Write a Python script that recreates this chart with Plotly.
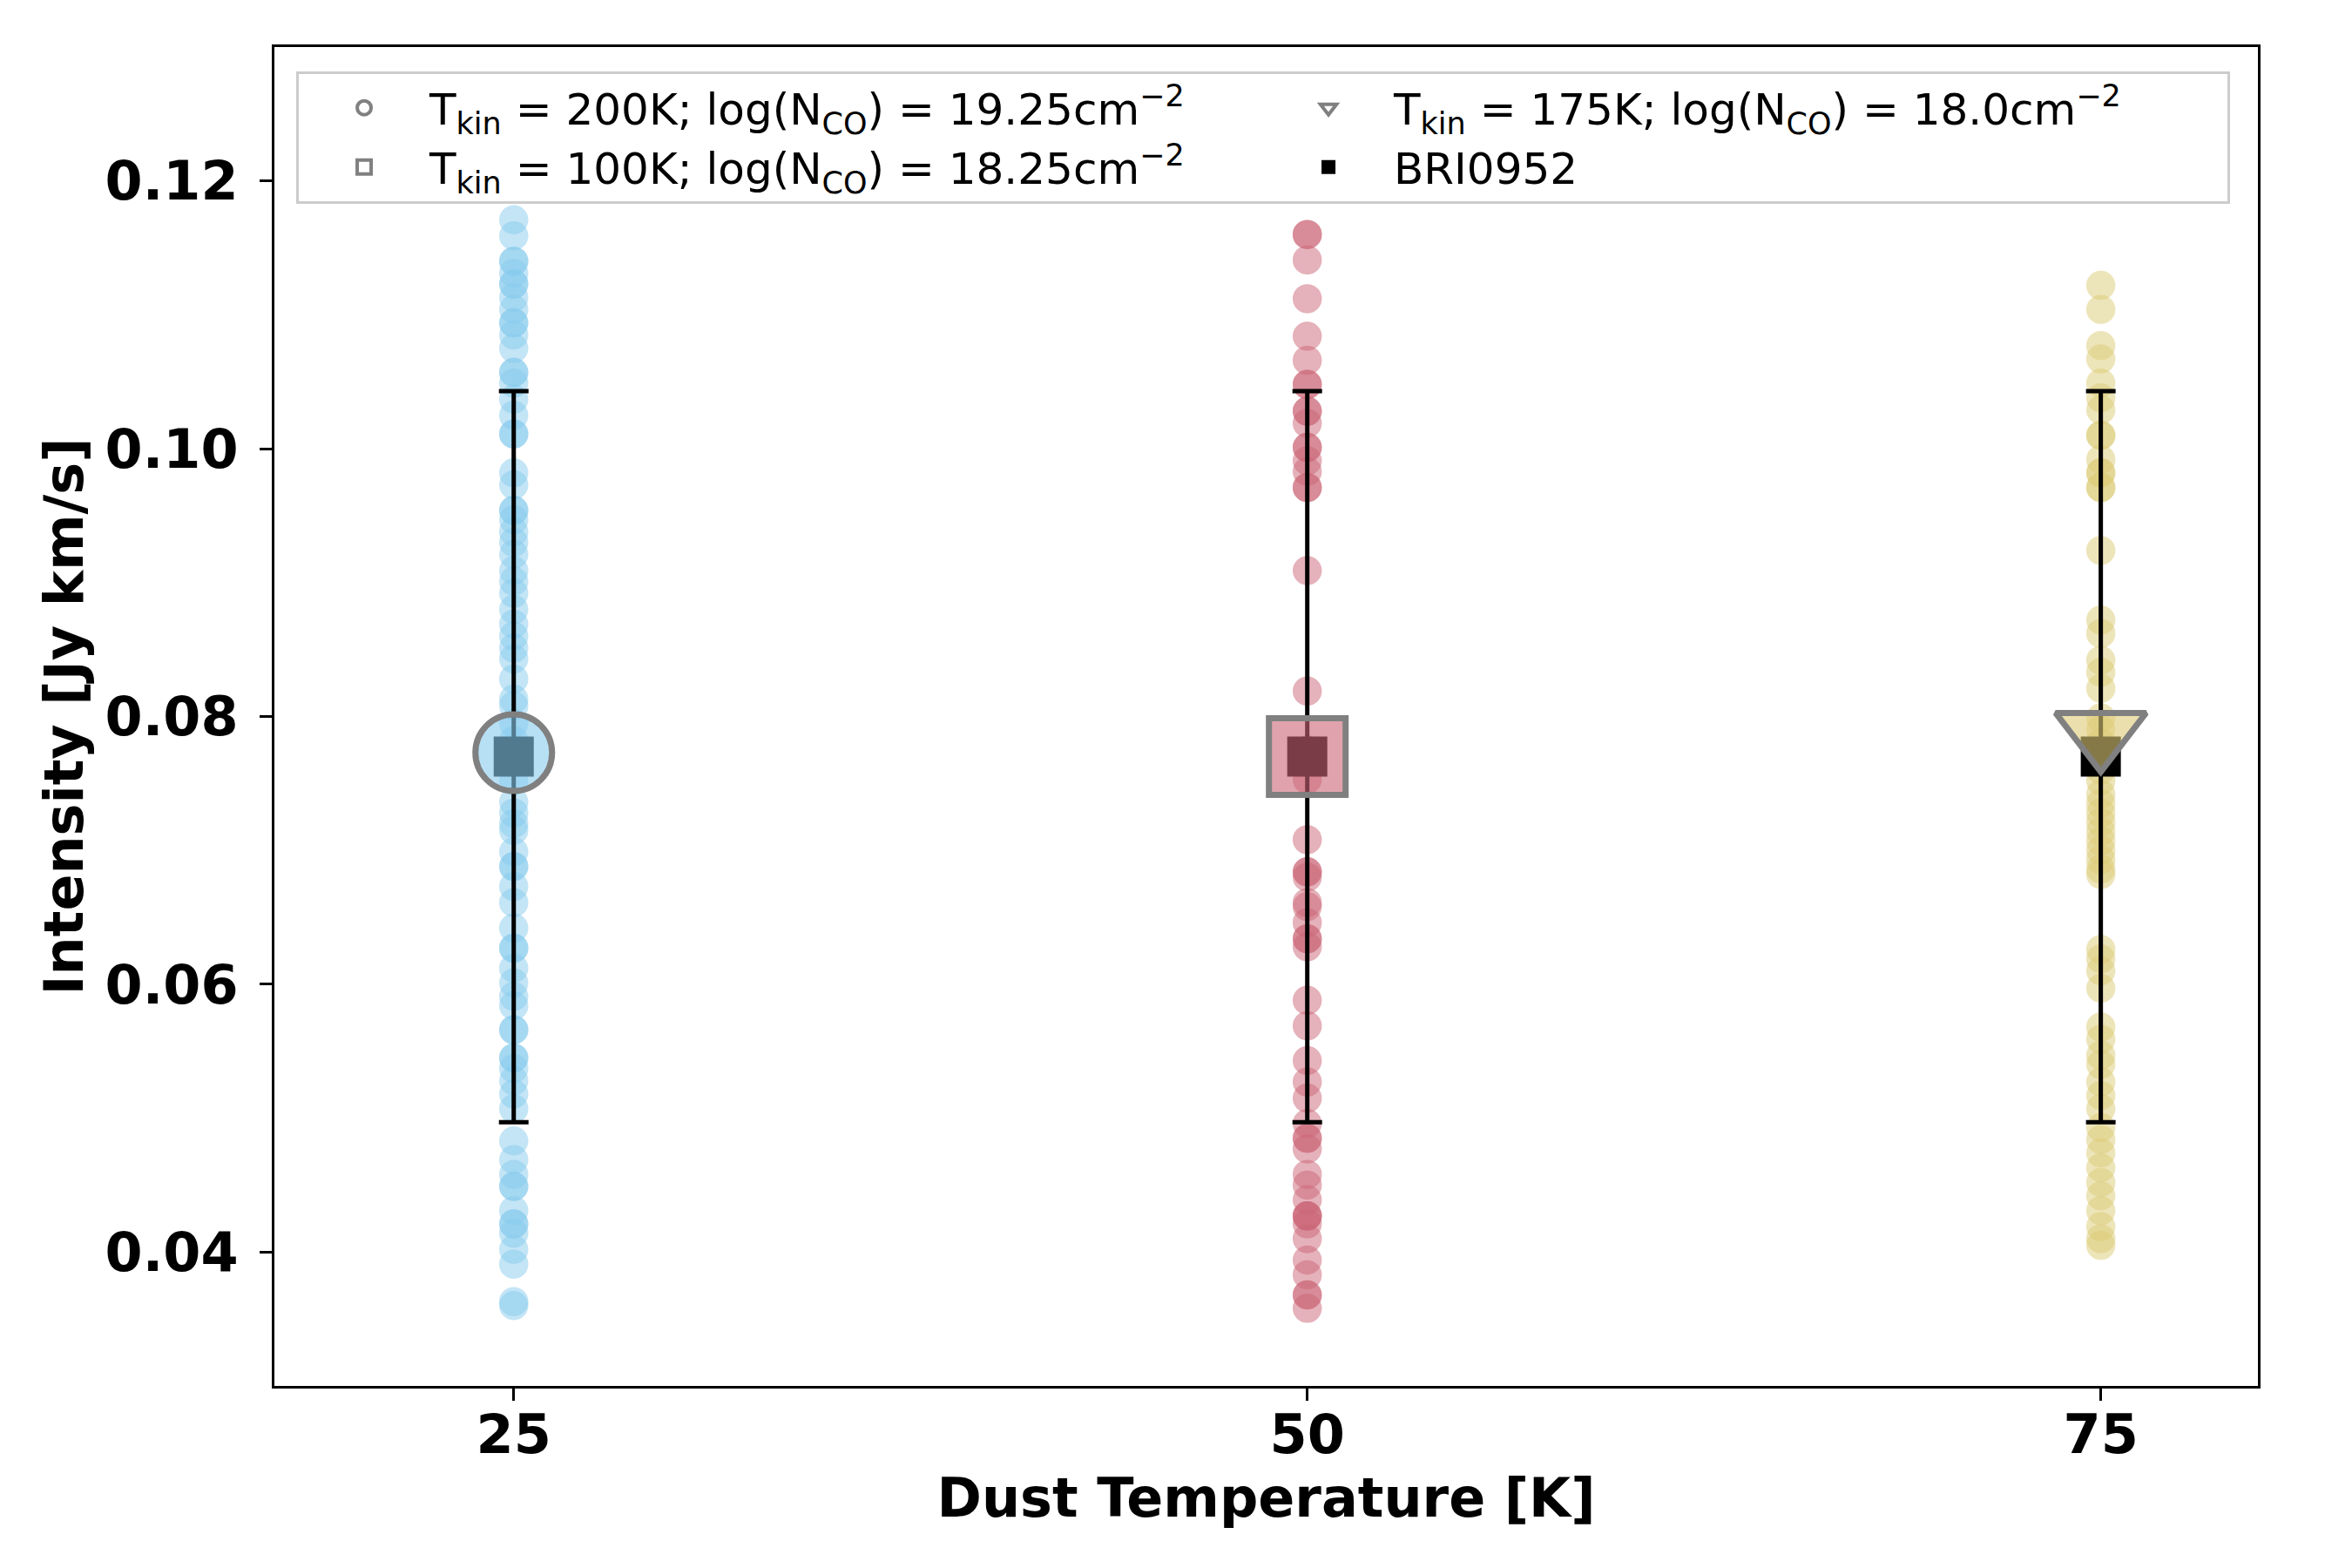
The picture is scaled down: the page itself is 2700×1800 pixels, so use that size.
import plotly.graph_objs as go

# dust temperature of each model column
t_dust = [25, 50, 75]

# model intensities (Jy km/s)
int_25 = [0.1171, 0.1159, 0.1140, 0.1140, 0.1131, 0.1123, 0.1123, 0.1113, 0.1104, 0.1094, 0.1094,
          0.1085, 0.1075, 0.1057, 0.1057, 0.1049, 0.1037, 0.1025, 0.1011, 0.1011, 0.0982, 0.0973,
          0.0954, 0.0954, 0.0947, 0.0938, 0.0930, 0.0921, 0.0909, 0.0901, 0.0892, 0.0880, 0.0869,
          0.0860, 0.0851, 0.0843, 0.0828, 0.0813, 0.0808, 0.0795, 0.0782, 0.0768, 0.0752, 0.0736,
          0.0728, 0.0720, 0.0715, 0.0699, 0.0688, 0.0688, 0.0673, 0.0661, 0.0642, 0.0627, 0.0627,
          0.0612, 0.0601, 0.0591, 0.0584, 0.0566, 0.0566, 0.0545, 0.0545, 0.0537, 0.0528, 0.0518,
          0.0507, 0.0483, 0.0469, 0.0458, 0.0449, 0.0449, 0.0431, 0.0421, 0.0421, 0.0414, 0.0402,
          0.0391, 0.0363, 0.0360]
int_50 = [0.1160, 0.1160, 0.1141, 0.1112, 0.1084, 0.1066, 0.1048, 0.1048, 0.1028, 0.1028, 0.1019,
          0.1001, 0.1001, 0.0991, 0.0983, 0.0971, 0.0971, 0.0909, 0.0819, 0.0775, 0.0753, 0.0708,
          0.0684, 0.0684, 0.0680, 0.0661, 0.0658, 0.0646, 0.0634, 0.0634, 0.0628, 0.0588, 0.0569,
          0.0543, 0.0527, 0.0515, 0.0496, 0.0485, 0.0485, 0.0477, 0.0458, 0.0450, 0.0439, 0.0427,
          0.0427, 0.0427, 0.0421, 0.0410, 0.0394, 0.0383, 0.0368, 0.0368, 0.0358]
int_75 = [0.1122, 0.1104, 0.1077, 0.1067, 0.1049, 0.1038, 0.1029, 0.1010, 0.1010, 0.0992, 0.0982,
          0.0982, 0.0971, 0.0971, 0.0924, 0.0872, 0.0862, 0.0842, 0.0833, 0.0821, 0.0799, 0.0790,
          0.0780, 0.0770, 0.0760, 0.0752, 0.0742, 0.0735, 0.0728, 0.0721, 0.0714, 0.0707, 0.0700,
          0.0693, 0.0686, 0.0682, 0.0626, 0.0619, 0.0610, 0.0597, 0.0568, 0.0559, 0.0547, 0.0540,
          0.0527, 0.0517, 0.0507, 0.0493, 0.0484, 0.0474, 0.0463, 0.0452, 0.0442, 0.0431, 0.0419,
          0.0410, 0.0405]

# best fit models
best_names = ['T<sub>kin</sub> = 200K; log(N<sub>CO</sub>) = 19.25cm<sup>\u22122</sup>',
              'T<sub>kin</sub> = 100K; log(N<sub>CO</sub>) = 18.25cm<sup>\u22122</sup>',
              'T<sub>kin</sub> = 175K; log(N<sub>CO</sub>) = 18.0cm<sup>\u22122</sup>']
best_int = [0.0773, 0.0770, 0.0788]

# observed BRI0952 line
obs_name = 'BRI0952'
obs_int = 0.0770
obs_err = 0.0273

colors = ['#88CCEE', '#CC6677', '#DDCC77']
fills = ['rgba(136,204,238,0.6)', 'rgba(204,102,119,0.6)', 'rgba(221,204,119,0.6)']
symbols = ['circle', 'square', 'triangle-down']
sizes = [88, 88, 90]
ranks = [1, 3, 2]

data = []
for t, vals, c in zip(t_dust, [int_25, int_50, int_75], colors):
    data.append(go.Scatter(x=[t] * len(vals), y=vals, mode='markers', showlegend=False,
                           marker=dict(size=31, color=c, opacity=0.5,
                                       line=dict(color=c, width=2.5))))

data.append(go.Scatter(x=t_dust, y=[obs_int] * 3, mode='markers', name=obs_name,
                       legendrank=4,
                       marker=dict(symbol='square', size=46, color='black'),
                       error_y=dict(type='constant', value=obs_err, color='black',
                                    thickness=5, width=17)))

for i in range(3):
    data.append(go.Scatter(x=[t_dust[i]], y=[best_int[i]], mode='markers', showlegend=False,
                           marker=dict(symbol=symbols[i], size=sizes[i], color=fills[i],
                                       line=dict(color='#808080', width=7))))
    # hollow grey entry for the legend
    data.append(go.Scatter(x=[None], y=[None], mode='markers', name=best_names[i],
                           legendrank=ranks[i],
                           marker=dict(symbol=symbols[i], size=16, color='white',
                                       line=dict(color='#808080', width=4))))

fig = go.Figure(data=data)

axis_font = dict(family='DejaVu Sans', size=62, color='black', weight='bold')
fig.update_layout(
    width=2700, height=1800,
    margin=dict(l=307, r=116, t=46, b=217),
    plot_bgcolor='white', paper_bgcolor='white',
    font=dict(family='DejaVu Sans', color='black'),
    legend=dict(x=0.011, y=0.982, xanchor='left', yanchor='top', orientation='h',
                entrywidth=952, itemwidth=140, font=dict(size=50),
                bgcolor='rgba(255,255,255,0.8)', bordercolor='#cccccc', borderwidth=3),
)
fig.update_xaxes(range=[17.46, 79.95], tickvals=t_dust, ticks='outside', ticklen=14, tickwidth=2.5,
                 tickcolor='black', ticklabelstandoff=-14, tickfont=axis_font,
                 showline=True, linecolor='black', linewidth=3, mirror=True,
                 showgrid=False, zeroline=False,
                 title=dict(text='Dust Temperature [K]', font=axis_font, standoff=12))
fig.update_yaxes(range=[0.03, 0.13], tickvals=[0.04, 0.06, 0.08, 0.10, 0.12], tickformat='.2f',
                 ticks='outside', ticklen=14, tickwidth=2.5, tickcolor='black',
                 ticklabelstandoff=12, tickfont=axis_font,
                 showline=True, linecolor='black', linewidth=3, mirror=True,
                 showgrid=False, zeroline=False,
                 title=dict(text='Intensity [Jy km/s]', font=axis_font, standoff=5))

fig.write_html('out.html')
